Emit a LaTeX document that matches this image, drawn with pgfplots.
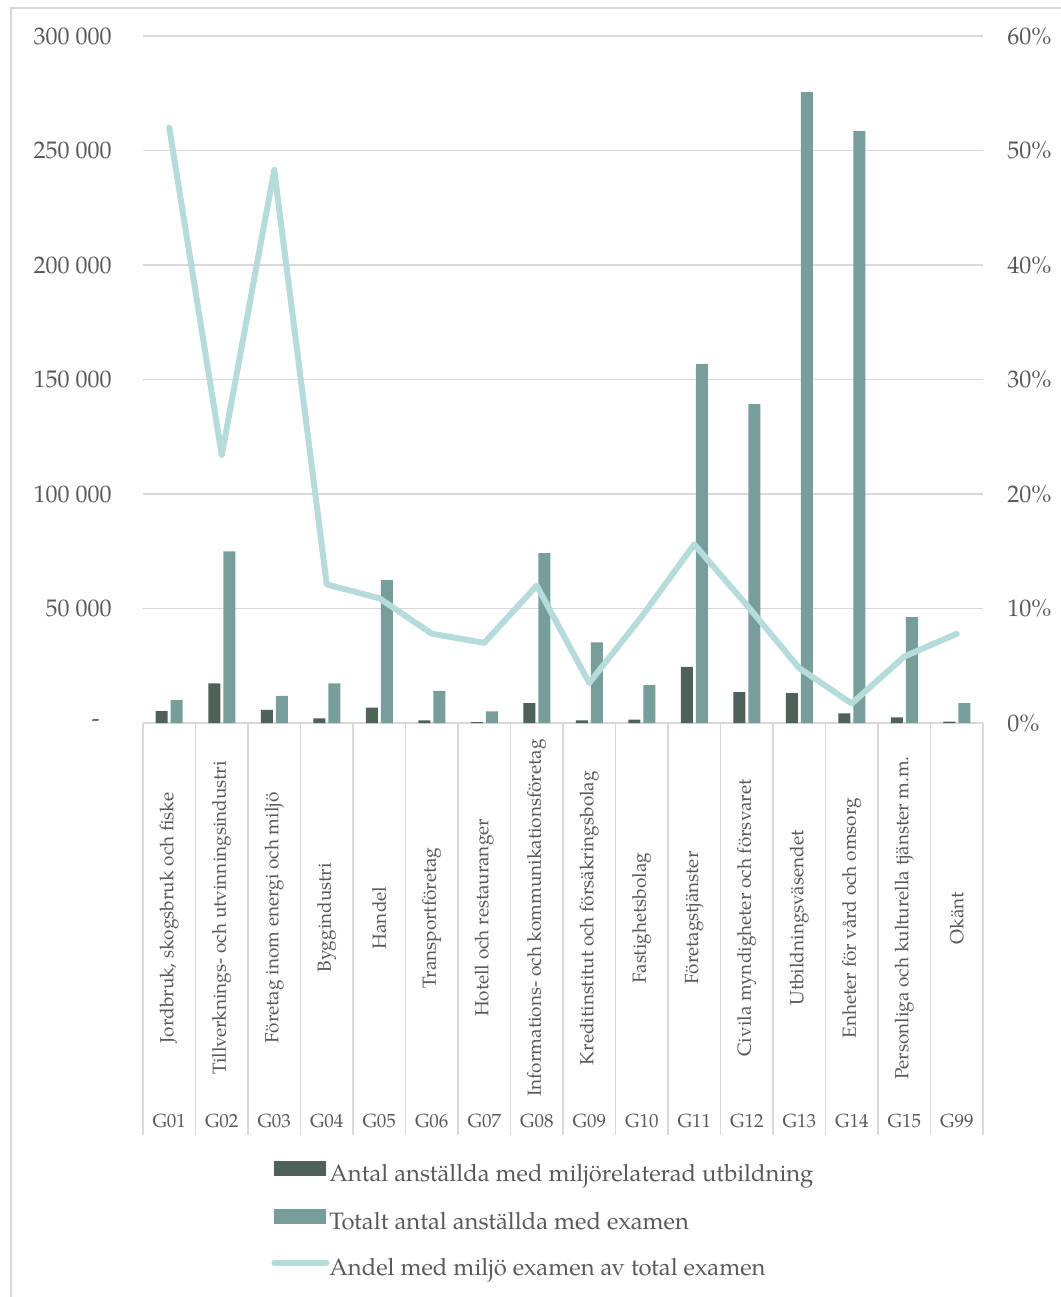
\documentclass[border=0pt]{standalone}
\usepackage{pgfplots}
\pgfplotsset{compat=1.18}
\usepackage{pgfplotstable}
\usepackage{fontspec}
\setmainfont{TeX Gyre Pagella}
\definecolor{darkbar}{HTML}{4F625A}
\definecolor{lightbar}{HTML}{789E9C}
\definecolor{linecol}{HTML}{B5DCDA}
\definecolor{gridgray}{HTML}{D9D9D9}
\definecolor{txt}{HTML}{595959}
\pgfplotstableread{
x miljo total andel
0 5200 10000 52.0
1 17300 75000 23.4
2 5700 11800 48.3
3 2000 17300 12.1
4 6700 62400 10.9
5 1100 14000 7.8
6 400 5100 7.0
7 8700 74200 12.0
8 1200 35200 3.5
9 1500 16500 9.3
10 24500 156800 15.6
11 13500 139300 10.3
12 13000 275500 4.8
13 4200 258500 1.7
14 2500 46200 5.8
15 600 8700 7.8
}\data
\begin{document}
\begin{tikzpicture}
\useasboundingbox (-71.5pt,-287pt) rectangle (459pt,361.5pt);
\draw[gridgray, line width=1pt] (-66pt,357.5pt) rectangle (480pt,-300pt);
\begin{axis}[
 at={(0pt,0pt)}, anchor=south west,
 scale only axis, width=420pt, height=343.5pt,
 xmin=-0.5, xmax=15.5, ymin=0, ymax=300000,
 axis x line*=bottom, axis y line*=left,
 x axis line style={gridgray, line width=0.75pt},
 y axis line style={draw=none},
 xtick={0,...,15},
 xticklabels={{Jordbruk, skogsbruk och fiske},{Tillverknings- och utvinningsindustri},{Företag inom energi och miljö},{Byggindustri},{Handel},{Transportföretag},{Hotell och restauranger},{Informations- och kommunikationsföretag},{Kreditinstitut och försäkringsbolag},{Fastighetsbolag},{Företagstjänster},{Civila myndigheter och försvaret},{Utbildningsväsendet},{Enheter för vård och omsorg},{Personliga och kulturella tjänster m.m.},{Okänt}},
 minor xtick={-0.5,0.5,...,15.5},
 major tick length=0pt, minor tick length=206pt,
 tick align=outside,
 minor x tick style={gridgray, line width=0.75pt},
 xticklabel style={yshift=-97.5pt, rotate=90, anchor=center, inner sep=0pt, font=\fontsize{9.5}{11}\selectfont, text=txt},
 ytick={0,50000,...,300000},
 yticklabels={{\makebox[10pt][l]{-}},50 000,100 000,150 000,200 000,250 000,300 000},
 yticklabel style={anchor=east, inner sep=0pt, xshift=-15.5pt, font=\fontsize{12}{14}\selectfont, text=txt},
 ymajorgrids, grid style={gridgray, line width=0.75pt},
 scaled y ticks=false,
 legend style={at={(0.15238,-0.6376)}, anchor=north west, draw=none, fill=none, inner sep=0pt, row sep=10.8pt, font=\fontsize{11.9}{14}\selectfont, text=txt, nodes={inner sep=0pt, text height=9pt, text depth=3pt}},
 legend cell align=left,
]
\addplot[ybar, bar width=6pt, bar shift=-3.75pt, fill=darkbar, draw=none,
 legend image code/.code={\fill[darkbar] (0pt,-0.3pt) rectangle (26pt,7.2pt);}] table[x=x,y=miljo]{\data};
\addlegendentry{Antal anställda med miljörelaterad utbildning}
\addplot[ybar, bar width=6pt, bar shift=3.75pt, fill=lightbar, draw=none,
 legend image code/.code={\fill[lightbar] (0pt,-0.3pt) rectangle (26pt,7.2pt);}] table[x=x,y=total]{\data};
\addlegendentry{Totalt antal anställda med examen}
\addlegendimage{legend image code/.code={\draw[linecol, line width=3pt, line cap=round] (0pt,3.45pt) -- (26pt,3.45pt);}}
\addlegendentry{Andel med miljö examen av total examen}
\end{axis}
\begin{axis}[
 at={(0pt,0pt)}, anchor=south west,
 scale only axis, width=420pt, height=343.5pt,
 xmin=-0.5, xmax=15.5, ymin=0, ymax=60,
 axis x line*=bottom, axis y line*=right,
 x axis line style={draw=none}, y axis line style={draw=none},
 xtick={0,...,15},
 xticklabels={G01,G02,G03,G04,G05,G06,G07,G08,G09,G10,G11,G12,G13,G14,G15,G99},
 major tick length=0pt,
 xticklabel style={yshift=-199pt, anchor=center, inner sep=0pt, font=\fontsize{9.5}{11}\selectfont, text=txt},
 ytick={0,10,...,60},
 yticklabels={0\%,10\%,20\%,30\%,40\%,50\%,60\%},
 yticklabel style={anchor=west, inner sep=0pt, xshift=12pt, font=\fontsize{12}{14}\selectfont, text=txt},
]
\addplot[linecol, line width=3pt, line join=round, line cap=round, mark=none] table[x=x,y=andel]{\data};
\end{axis}
\end{tikzpicture}
\end{document}
